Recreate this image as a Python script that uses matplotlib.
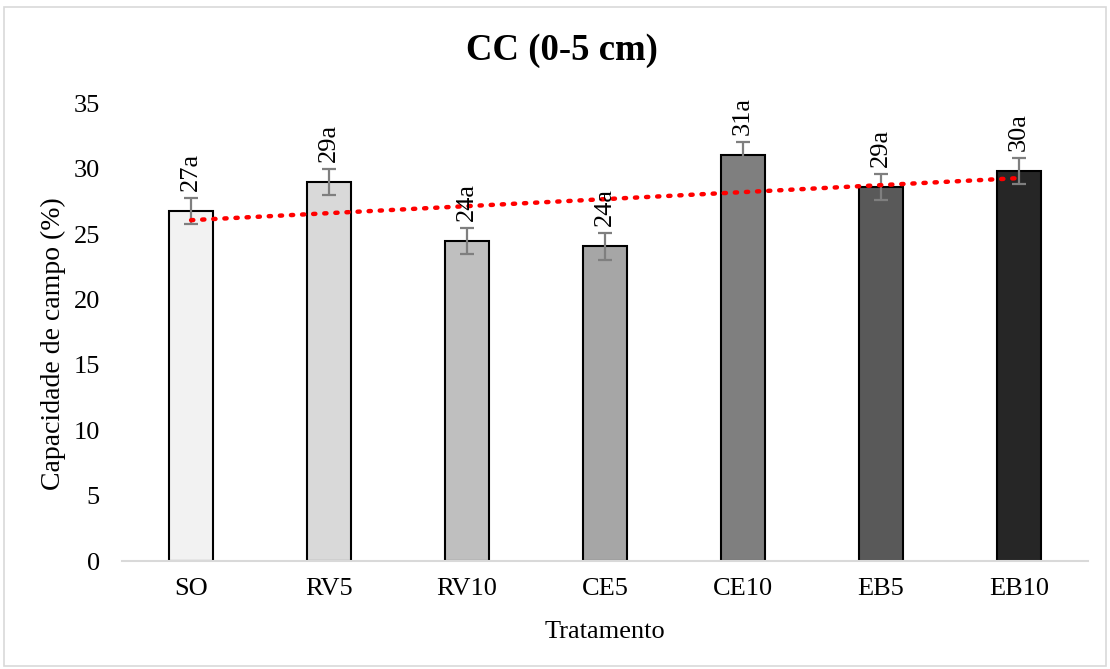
import numpy as np
import matplotlib.pyplot as plt
from matplotlib.patches import Rectangle

plt.rcParams['font.family'] = ['Liberation Serif', 'DejaVu Serif']

treatments = ["SO", "RV5", "RV10", "CE5", "CE10", "EB5", "EB10"]
cc_means = [26.75, 28.95, 24.5, 24.05, 31.05, 28.6, 29.8]
cc_err = [1.0, 1.0, 1.0, 1.0, 1.0, 1.0, 1.0]
labels = ["27a", "29a", "24a", "24a", "31a", "29a", "30a"]
bar_colors = ["#f2f2f2", "#d9d9d9", "#bfbfbf", "#a6a6a6", "#7f7f7f", "#595959", "#262626"]

fig = plt.figure(figsize=(11.1, 6.69), dpi=100)
ax = fig.add_axes([0.110, 0.1614, 0.870, 0.6842])

x = np.arange(len(treatments))
ax.bar(x, cc_means, width=0.315, color=bar_colors, edgecolor="black", linewidth=1.5, zorder=2)
ax.errorbar(x, cc_means, yerr=cc_err, fmt="none", ecolor="#7f7f7f", elinewidth=1.6,
            capsize=5, capthick=1.6, zorder=3)

# linear trendline (like Excel)
coef = np.polyfit(x, cc_means, 1)
ax.plot(x, np.polyval(coef, x), linestyle=(0, (0.5, 2.0)), color="red", linewidth=3.2,
        dash_capstyle="round", zorder=4)

for xi, m, e, lab in zip(x, cc_means, cc_err, labels):
    ax.annotate(lab, (xi, m + e), xytext=(0, 5), textcoords="offset points",
                rotation=90, ha="center", va="bottom", fontsize=19, zorder=5)

ax.set_xlim(-0.5, len(treatments) - 0.5)
ax.set_ylim(0, 35)
ax.set_yticks(range(0, 36, 5))
ax.set_xticks(x)
ax.set_xticklabels(treatments)
ax.tick_params(axis="both", length=0, labelsize=19)
ax.tick_params(axis="x", pad=12)
ax.tick_params(axis="y", pad=16)
for s in ["top", "right", "left"]:
    ax.spines[s].set_visible(False)
ax.spines["bottom"].set_color("#d9d9d9")
ax.spines["bottom"].set_linewidth(1.5)

ax.set_xlabel("Tratamento", fontsize=19, labelpad=15)
ax.set_ylabel("Capacidade de campo (%)", fontsize=20)
ax.yaxis.set_label_coords(-0.058, 0.476)
fig.text(0.506, 0.924, "CC (0-5 cm)", ha="center", va="center", fontsize=26.5, fontweight="bold")

fig.patches.append(Rectangle((0.004, 0.004), 0.992, 0.985, transform=fig.transFigure,
                             fill=False, edgecolor="#d9d9d9", linewidth=1.2))

fig.savefig("out.png", dpi=100)
